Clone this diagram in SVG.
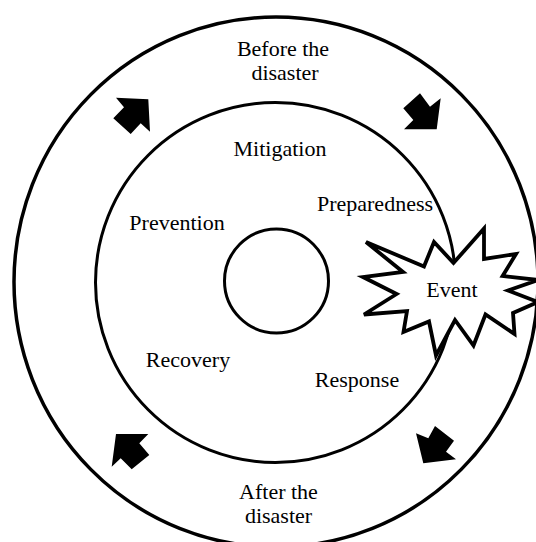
<svg xmlns="http://www.w3.org/2000/svg" width="536" height="542" viewBox="0 0 536 542">
  <style>
    .ring { fill: none; stroke: #000; }
    .lbl { font-family: "Liberation Serif", "Times New Roman", serif; font-size: 22px; fill: #000; text-anchor: middle; }
    .arrow { fill: #000; stroke: none; }
  </style>
  <rect x="0" y="0" width="536" height="542" fill="#fff"/>
  <g id="outer-ring">
    <ellipse class="ring" cx="276" cy="282" rx="262" ry="265" stroke-width="3.5"/>
    <text class="lbl" x="283" y="56">Before the</text>
    <text class="lbl" x="285" y="80">disaster</text>
    <text class="lbl" x="278.5" y="499">After the</text>
    <text class="lbl" x="278.5" y="523">disaster</text>
  </g>
  <g id="inner-ring">
    <circle class="ring" cx="275.5" cy="282.5" r="180" stroke-width="3"/>
    <text class="lbl" x="280" y="156">Mitigation</text>
    <text class="lbl" x="375" y="211">Preparedness</text>
    <text class="lbl" x="177" y="230">Prevention</text>
    <text class="lbl" x="188" y="367">Recovery</text>
    <text class="lbl" x="357" y="387">Response</text>
  </g>
  <g id="core">
    <circle class="ring" cx="276.5" cy="281" r="52" stroke-width="3"/>
  </g>
  <g id="event">
    <polygon points="366,242 424,266.5 434,242 453.5,263 484,228.5 484,259 516,254 502.6,276 538,280 508,290.5 538,302 513,313 514.5,334 485.5,314.5 473.5,345.5 455,320 436,355.5 429,321.5 403.5,332 407,311 364,314.5 396.6,294 363,277 403,272" fill="#fff" stroke="#000" stroke-width="3.8" stroke-linejoin="miter"/>
    <text class="lbl" x="452" y="297">Event</text>
  </g>
  <g id="connectors">
    <polygon class="arrow" points="116,97.7 148.3,99.3 150,131.7 140.7,123.3 130.7,134 113.3,118.3 124,107.3"/>
    <polygon class="arrow" points="420,93.3 430,106.7 440.7,98.3 436.7,129.3 404,129.3 413.3,120 403.3,108.3"/>
    <polygon class="arrow" points="116,434 148.3,434 139.3,443.3 149.3,455 131.7,469.3 120.7,458.3 111.7,466.7"/>
    <polygon class="arrow" points="416,433.3 428.3,438.3 435,426 454,440.7 446,451.7 456,459.3 423.3,463.3"/>
  </g>
</svg>
